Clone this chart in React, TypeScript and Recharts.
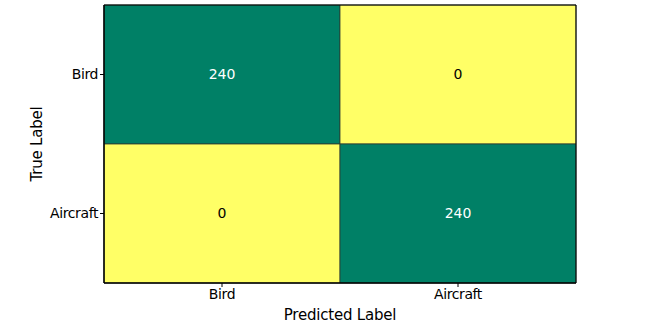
import { ScatterChart, XAxis, YAxis, ReferenceArea, Scatter } from 'recharts'

const labels = ['Bird', 'Aircraft']
// counts[row = true][col = predicted]
const counts = [
  [240, 0],
  [0, 240],
]
const GREEN = '#008066'
const YELLOW = '#ffff66'
const FONT = '"DejaVu Sans", sans-serif'

const cells = counts.flatMap((row, r) =>
  row.map((v, c) => ({ r, c, v }))
)
const maxVal = Math.max(...cells.map((d) => d.v))

const tickStyle = { fill: '#000', fontSize: 14, fontFamily: FONT, letterSpacing: -0.4 }

export default function App() {
  return (
    <div style={{ position: 'absolute', left: 0, top: 0, fontFamily: FONT }}>
      <ScatterChart
        width={654}
        height={327}
        margin={{ top: 5, right: 78, bottom: 0, left: 0 }}
      >
        <XAxis
          type="number"
          dataKey="c"
          domain={[-0.5, 1.5]}
          ticks={[0, 1]}
          tickFormatter={(v: number) => labels[v]}
          height={44}
          stroke="#000"
          tick={tickStyle}
          tickSize={4}
          allowDataOverflow
          label={{ value: 'Predicted Label', position: 'insideBottom', offset: 7, fill: '#000', fontSize: 15, fontFamily: FONT, letterSpacing: -0.2 }}
        />
        <YAxis
          type="number"
          dataKey="r"
          domain={[-0.5, 1.5]}
          reversed
          ticks={[0, 1]}
          tickFormatter={(v: number) => labels[v]}
          width={104}
          stroke="#000"
          tick={tickStyle}
          tickSize={4}
          allowDataOverflow
          label={{ value: 'True Label', angle: -90, position: 'insideLeft', offset: 37, fill: '#000', fontSize: 15, fontFamily: FONT, letterSpacing: -0.2, style: { textAnchor: 'middle' } }}
        />
        {cells.map((d) => (
          <ReferenceArea
            key={`${d.r}-${d.c}`}
            x1={d.c - 0.5}
            x2={d.c + 0.5}
            y1={d.r - 0.5}
            y2={d.r + 0.5}
            fill={d.v === maxVal ? GREEN : YELLOW}
            fillOpacity={1}
            stroke="#2b3a30"
            strokeWidth={0.8}
            ifOverflow="visible"
            label={{
              value: String(d.v),
              position: 'center',
              fill: d.v > maxVal / 2 ? '#fff' : '#000',
              fontSize: 14,
              fontFamily: FONT,
            }}
          />
        ))}
        <ReferenceArea
          x1={-0.5}
          x2={1.5}
          y1={-0.5}
          y2={1.5}
          fill="none"
          stroke="#000"
          strokeWidth={1}
          ifOverflow="visible"
        />
        <Scatter data={cells} fill="none" isAnimationActive={false} shape={() => <g />} />
      </ScatterChart>
    </div>
  )
}
